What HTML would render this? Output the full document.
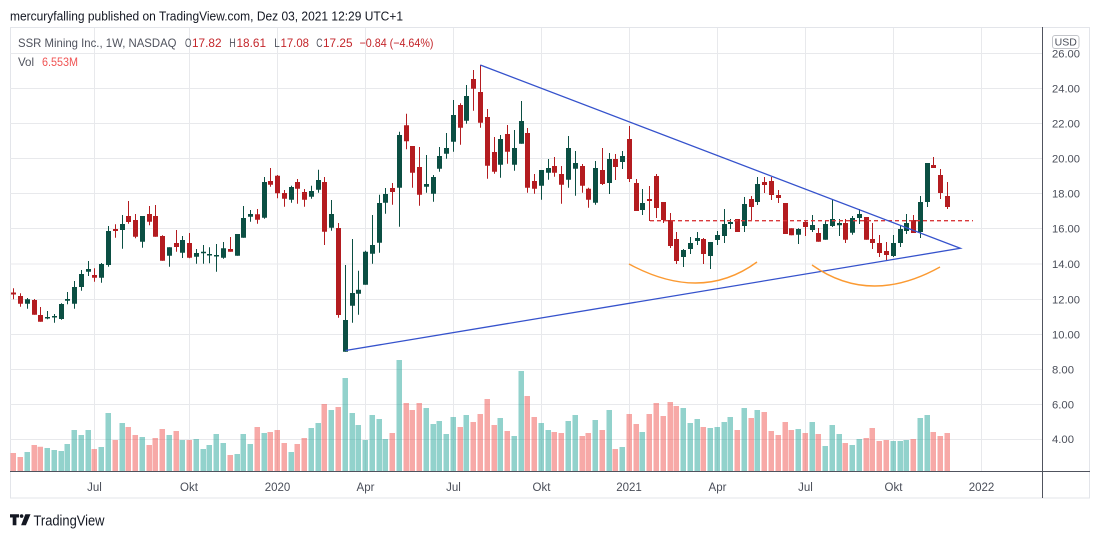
<!DOCTYPE html>
<html><head><meta charset="utf-8"><style>
html,body{margin:0;padding:0;background:#fff;}
svg{display:block;font-family:"Liberation Sans",sans-serif;}
</style></head><body>
<svg width="1100" height="534" viewBox="0 0 1100 534" xmlns="http://www.w3.org/2000/svg">
<rect width="1100" height="534" fill="#fff"/>
<text x="10" y="20.5" font-size="13" fill="#131722" textLength="393" lengthAdjust="spacingAndGlyphs">mercuryfalling published on TradingView.com, Dez 03, 2021 12:29 UTC+1</text>
<rect x="10.5" y="27.5" width="1079" height="470.5" fill="none" stroke="#e3e5ea" stroke-width="1"/>
<g stroke="#e8e9ec" stroke-width="1">
<path d="M10 53.5H1042M10 88.5H1042M10 123.5H1042M10 158.5H1042M10 193.5H1042M10 228.5H1042M10 264H1042M10 299.5H1042M10 334.5H1042M10 369.5H1042M10 404.5H1042M10 439.5H1042"/>
<path d="M94.5 28V471M189.5 28V471M277.5 28V471M365.5 28V471M453.5 28V471M541.5 28V471M629.5 28V471M717.5 28V471M805.5 28V471M893.5 28V471M981.5 28V471"/>
</g>
<!-- volume green -->
<path fill="rgba(38,166,154,0.5)" d="M24.5 452h5.5V471h-5.5zM44.5 448h5.5V471h-5.5zM51.5 450h5.5V471h-5.5zM58.5 451h5.5V471h-5.5zM64.5 444h5.5V471h-5.5zM71.5 430h5.5V471h-5.5zM78.5 435h5.5V471h-5.5zM85.5 430h5.5V471h-5.5zM98.5 447h5.5V471h-5.5zM105.5 413h5.5V471h-5.5zM119.5 423h5.5V471h-5.5zM139.5 437h5.5V471h-5.5zM166.5 435h5.5V471h-5.5zM179.5 440h5.5V471h-5.5zM193.5 439h5.5V471h-5.5zM200.5 449h5.5V471h-5.5zM206.5 445h5.5V471h-5.5zM213.5 434h5.5V471h-5.5zM220.5 443h5.5V471h-5.5zM234.5 454h5.5V471h-5.5zM240.5 434h5.5V471h-5.5zM247.5 444h5.5V471h-5.5zM261.5 433h5.5V471h-5.5zM288.5 452h5.5V471h-5.5zM308.5 428h5.5V471h-5.5zM315.5 423h5.5V471h-5.5zM328.5 410h5.5V471h-5.5zM342.5 378h5.5V471h-5.5zM349.5 413h5.5V471h-5.5zM355.5 425h5.5V471h-5.5zM362.5 440h5.5V471h-5.5zM369.5 415h5.5V471h-5.5zM376.5 419h5.5V471h-5.5zM382.5 439h5.5V471h-5.5zM396.5 360h5.5V471h-5.5zM423.5 408h5.5V471h-5.5zM430.5 424h5.5V471h-5.5zM436.5 421h5.5V471h-5.5zM443.5 434h5.5V471h-5.5zM450.5 417h5.5V471h-5.5zM463.5 415h5.5V471h-5.5zM497.5 418h5.5V471h-5.5zM511.5 436h5.5V471h-5.5zM518.5 371h5.5V471h-5.5zM538.5 423h5.5V471h-5.5zM545.5 430h5.5V471h-5.5zM565.5 421h5.5V471h-5.5zM572.5 415h5.5V471h-5.5zM592.5 420h5.5V471h-5.5zM606.5 410h5.5V471h-5.5zM619.5 447h5.5V471h-5.5zM639.5 432h5.5V471h-5.5zM680.5 408h5.5V471h-5.5zM687.5 423h5.5V471h-5.5zM694.5 419h5.5V471h-5.5zM707.5 428h5.5V471h-5.5zM714.5 427h5.5V471h-5.5zM721.5 422h5.5V471h-5.5zM727.5 417h5.5V471h-5.5zM741.5 408h5.5V471h-5.5zM754.5 410h5.5V471h-5.5zM795.5 429h5.5V471h-5.5zM809.5 422h5.5V471h-5.5zM822.5 446h5.5V471h-5.5zM829.5 425h5.5V471h-5.5zM836.5 434h5.5V471h-5.5zM849.5 445h5.5V471h-5.5zM856.5 439h5.5V471h-5.5zM890.5 441h5.5V471h-5.5zM897.5 441h5.5V471h-5.5zM903.5 440h5.5V471h-5.5zM917.5 418h5.5V471h-5.5zM924.5 415h5.5V471h-5.5z"/>
<!-- volume red -->
<path fill="rgba(239,83,80,0.5)" d="M10.5 453h5.5V471h-5.5zM17.5 457h5.5V471h-5.5zM31.5 445h5.5V471h-5.5zM37.5 446.7h5.5V471h-5.5zM91.5 449h5.5V471h-5.5zM112.5 440h5.5V471h-5.5zM125.5 427h5.5V471h-5.5zM132.5 435h5.5V471h-5.5zM146.5 445h5.5V471h-5.5zM152.5 438h5.5V471h-5.5zM159.5 429h5.5V471h-5.5zM173.5 431h5.5V471h-5.5zM186.5 440h5.5V471h-5.5zM227.5 455h5.5V471h-5.5zM254.5 427h5.5V471h-5.5zM267.5 432h5.5V471h-5.5zM274.5 430h5.5V471h-5.5zM281.5 443h5.5V471h-5.5zM294.5 444h5.5V471h-5.5zM301.5 438h5.5V471h-5.5zM321.5 404h5.5V471h-5.5zM335.5 407h5.5V471h-5.5zM389.5 433h5.5V471h-5.5zM403.5 403h5.5V471h-5.5zM409.5 410h5.5V471h-5.5zM416.5 403h5.5V471h-5.5zM457.5 427h5.5V471h-5.5zM470.5 422h5.5V471h-5.5zM477.5 414h5.5V471h-5.5zM484.5 399h5.5V471h-5.5zM491.5 425h5.5V471h-5.5zM504.5 431h5.5V471h-5.5zM524.5 396h5.5V471h-5.5zM531.5 417h5.5V471h-5.5zM551.5 432h5.5V471h-5.5zM558.5 433h5.5V471h-5.5zM579.5 436h5.5V471h-5.5zM585.5 433h5.5V471h-5.5zM599.5 430h5.5V471h-5.5zM612.5 449h5.5V471h-5.5zM626.5 414h5.5V471h-5.5zM633.5 424h5.5V471h-5.5zM646.5 414h5.5V471h-5.5zM653.5 403h5.5V471h-5.5zM660.5 416h5.5V471h-5.5zM667.5 402h5.5V471h-5.5zM673.5 406h5.5V471h-5.5zM700.5 427h5.5V471h-5.5zM734.5 430h5.5V471h-5.5zM748.5 418h5.5V471h-5.5zM761.5 412h5.5V471h-5.5zM768.5 431h5.5V471h-5.5zM775.5 435h5.5V471h-5.5zM782.5 422h5.5V471h-5.5zM788.5 430h5.5V471h-5.5zM802.5 433h5.5V471h-5.5zM815.5 434h5.5V471h-5.5zM842.5 443h5.5V471h-5.5zM863.5 438h5.5V471h-5.5zM869.5 428h5.5V471h-5.5zM876.5 441h5.5V471h-5.5zM883.5 440h5.5V471h-5.5zM910.5 439h5.5V471h-5.5zM930.5 432h5.5V471h-5.5zM937.5 436h5.5V471h-5.5zM944.5 433h5.5V471h-5.5z"/>
<!-- green wicks -->
<path fill="none" stroke="#0b4f43" stroke-width="1" d="M27.5 298V308.7M47.5 311V319.3M54.5 314V322.7M61.5 303.3V319.7M67.5 292V304.3M74.5 281V308.7M81.5 270V290.7M88.5 261V276M101.5 263V282.7M108.5 226V266.7M122.5 215V248.7M142.5 216V247.7M169.5 247.3V266.7M182.5 236V258M196.5 249V263.7M203.5 245V263.7M209.5 247.3V263.3M216.5 244V271.7M223.5 242V258.7M237.5 234V255.7M243.5 206V237.7M250.5 210V221.7M264.5 177V218.7M291.5 185.7V202.7M311.5 185.7V198.7M318.5 169.7V192.7M331.5 200V230.7M345.5 265V351.7M352.5 239V322.7M358.5 270.7V314.7M365.5 250.7V284.7M372.5 215V263.7M379.5 194.7V252.7M385.5 188V213.7M399.5 131.7V226.7M426.5 155V192.7M433.5 175V201.7M439.5 147V171.7M446.5 133V158.7M453.5 100V151.7M466.5 85V123.7M500.5 135V177.7M514.5 130V170.7M521.5 101V143.7M541.5 170V199.7M548.5 159V179.7M568.5 136V187.7M575.5 151V195.7M595.5 161V204.7M609.5 153V194M622.5 151V169M642.5 189V215M683.5 249V267M690.5 237V254M697.5 232V245M710.5 242V269M717.5 231V245M724.5 209V243M730.5 219V229M744.5 197V232M757.5 177V205M798.5 228.3V244M812.5 215V232M825.5 220V239.7M832.5 199V227M839.5 219V236M852.5 216V234.7M859.5 209V224M893.5 235V257M900.5 225V247M906.5 214V234M920.5 196V238M927.5 163V207"/>
<!-- green bodies -->
<path fill="#0b4f43" d="M25 299.3h5V303.7h-5zM45 317h5V318.5h-5zM52 316h5V317.5h-5zM59 304h5V319h-5zM65 299h5V300.7h-5zM72 287h5V303.7h-5zM79 274h5V287h-5zM86 269h5V271.7h-5zM99 264h5V277.7h-5zM106 231h5V265h-5zM120 224h5V230h-5zM140 216h5V241.7h-5zM167 247.3h5V255.7h-5zM180 240h5V252.7h-5zM194 253h5V256.7h-5zM201 251.7h5V253.2h-5zM207 254h5V255.5h-5zM214 255h5V256.5h-5zM221 248.3h5V257.7h-5zM235 234h5V255.7h-5zM241 218h5V237.7h-5zM248 214h5V216.7h-5zM262 182h5V217.7h-5zM289 187h5V199.7h-5zM309 191h5V196.7h-5zM316 180h5V189.7h-5zM329 214h5V227.7h-5zM343 320h5V351.7h-5zM350 293h5V305.7h-5zM356 289.7h5V293.7h-5zM363 251.7h5V284.7h-5zM370 245h5V253.7h-5zM377 203h5V242.7h-5zM383 194h5V202.7h-5zM397 135h5V187.7h-5zM424 184h5V186.7h-5zM431 177h5V193.7h-5zM437 156h5V168.7h-5zM444 148h5V153.7h-5zM451 115h5V141.7h-5zM464 96h5V120.7h-5zM498 139h5V164.7h-5zM512 148h5V164.7h-5zM519 121h5V143.7h-5zM539 170h5V185.7h-5zM546 168h5V172.7h-5zM566 148h5V179.7h-5zM573 163h5V168.7h-5zM593 168h5V202.7h-5zM607 159h5V183h-5zM620 156h5V162h-5zM640 203h5V210h-5zM681 250h5V257h-5zM688 243h5V249h-5zM695 238h5V241h-5zM708 242h5V256h-5zM715 235h5V240h-5zM722 224h5V236h-5zM728 222h5V224h-5zM742 204h5V226h-5zM755 184h5V202h-5zM796 229h5V234.7h-5zM810 225h5V230h-5zM823 224h5V239.7h-5zM830 219h5V226h-5zM837 223h5V225.3h-5zM850 218h5V232.7h-5zM857 214h5V218h-5zM891 243h5V256h-5zM898 229h5V243h-5zM904 223h5V231h-5zM918 202h5V232h-5zM925 163h5V202h-5z"/>
<!-- red wicks -->
<path fill="none" stroke="#b41c20" stroke-width="1" d="M13.5 288.3V299.3M20.5 293.3V306.7M34.5 299V314.7M40.5 307V321.7M94.5 268.3V281.7M115.5 224.3V237.7M128.5 201V223.7M135.5 214V238.3M149.5 206V225.3M155.5 205V236.7M162.5 235.3V260.7M176.5 230V251.7M189.5 233V258.3M230.5 237V251.7M257.5 209V223.7M270.5 168V186.7M277.5 175V198.3M284.5 190V206.7M297.5 179V203.7M304.5 189V206.7M324.5 177V245M338.5 223V317.7M392.5 183V204.7M406.5 113.7V149.3M412.5 146V187.7M419.5 147V205.7M460.5 103.3V144.7M473.5 70V110.7M480.5 65V127.7M487.5 109V178.7M494.5 137V173.7M507.5 125V163.7M527.5 128V192.7M534.5 174V193.7M554.5 157V176.7M561.5 166V203.7M582.5 164V192.7M588.5 187.7V207.7M602.5 148V185M615.5 154V180M629.5 126V182M636.5 179V211M649.5 186V221M656.5 174V218M663.5 202V223M670.5 213V248M676.5 232V264M703.5 238V264M737.5 219V232M751.5 196V221M764.5 177V193M771.5 177V200M778.5 190V203M785.5 203V234M791.5 228.3V235.3M805.5 220V236M818.5 228V241.7M845.5 219V243M866.5 217V239.7M872.5 223V249M879.5 235V257M886.5 242V260M913.5 215V233M933.5 157V168M940.5 169V199M947.5 182V209"/>
<!-- red bodies -->
<path fill="#b41c20" d="M11 292.5h5V294.5h-5zM18 296h5V303.7h-5zM32 300h5V314.7h-5zM38 315h5V321.7h-5zM92 275h5V277.7h-5zM113 229h5V231h-5zM126 216h5V222h-5zM133 220h5V236.7h-5zM147 214h5V221.7h-5zM153 216h5V236.7h-5zM160 236h5V260.7h-5zM174 243h5V247h-5zM187 243h5V257.7h-5zM228 249h5V251.7h-5zM255 214.3h5V219.7h-5zM268 181h5V184.7h-5zM275 175.7h5V193.3h-5zM282 193h5V198.7h-5zM295 182h5V188.7h-5zM302 192h5V199.7h-5zM322 182h5V231.7h-5zM336 228h5V315h-5zM390 188h5V192h-5zM404 125.3h5V141.3h-5zM410 146h5V172.7h-5zM417 167h5V194.7h-5zM458 105h5V127.7h-5zM471 79h5V88.7h-5zM478 92h5V122.7h-5zM485 117h5V165.7h-5zM492 152h5V171.7h-5zM505 134h5V151.7h-5zM525 133h5V187.7h-5zM532 181h5V188.7h-5zM552 166h5V172.7h-5zM559 174h5V184.7h-5zM580 166h5V185.7h-5zM586 188.7h5V199.7h-5zM600 170h5V184h-5zM613 159h5V167h-5zM627 139h5V179h-5zM634 183h5V211h-5zM647 199h5V201h-5zM654 176h5V208h-5zM661 202h5V220h-5zM668 220h5V246h-5zM674 239h5V261h-5zM701 239h5V254h-5zM735 219h5V232h-5zM749 199h5V207h-5zM762 182h5V185h-5zM769 181h5V195h-5zM776 195h5V198h-5zM783 203h5V234h-5zM789 228.3h5V235.3h-5zM803 222h5V227h-5zM816 233h5V241.7h-5zM843 223h5V239.7h-5zM864 217h5V239.7h-5zM870 239h5V243h-5zM877 243h5V253h-5zM884 251h5V255h-5zM911 220h5V233h-5zM931 165h5V168h-5zM938 175h5V193h-5zM945 196h5V207h-5z"/>
<!-- drawings -->
<path d="M650 220.7H973" stroke="#d9393b" stroke-width="1.3" stroke-dasharray="4,3" fill="none"/>
<path d="M480.3 65L960.3 248.3L345.5 350.5" stroke="#3552cc" stroke-width="1.3" fill="none"/>
<path d="M629 264Q701 303 757 262" stroke="#fb9a32" stroke-width="1.4" fill="none"/>
<path d="M812 265Q870 306 940 267" stroke="#fb9a32" stroke-width="1.4" fill="none"/>
<!-- axes -->
<path d="M1042.5 27V498M10 471.5H1090" stroke="#50535e" stroke-width="1" fill="none"/>
<g font-size="11" fill="#4a4e59">
<text x="1052" y="57.3" textLength="28" lengthAdjust="spacingAndGlyphs">26.00</text>
<text x="1052" y="92.3" textLength="28" lengthAdjust="spacingAndGlyphs">24.00</text>
<text x="1052" y="127.3" textLength="28" lengthAdjust="spacingAndGlyphs">22.00</text>
<text x="1052" y="162.3" textLength="28" lengthAdjust="spacingAndGlyphs">20.00</text>
<text x="1052" y="197.3" textLength="28" lengthAdjust="spacingAndGlyphs">18.00</text>
<text x="1052" y="232.3" textLength="28" lengthAdjust="spacingAndGlyphs">16.00</text>
<text x="1052" y="268" textLength="28" lengthAdjust="spacingAndGlyphs">14.00</text>
<text x="1052" y="303.3" textLength="28" lengthAdjust="spacingAndGlyphs">12.00</text>
<text x="1052" y="338.3" textLength="28" lengthAdjust="spacingAndGlyphs">10.00</text>
<text x="1052" y="373.3" textLength="22" lengthAdjust="spacingAndGlyphs">8.00</text>
<text x="1052" y="408.3" textLength="22" lengthAdjust="spacingAndGlyphs">6.00</text>
<text x="1052" y="443" textLength="22" lengthAdjust="spacingAndGlyphs">4.00</text>
</g>
<rect x="1052.5" y="35.5" width="26.5" height="13" rx="2.5" fill="#fff" stroke="#c3c5ca" stroke-width="1"/>
<text x="1065.7" y="45.7" font-size="10.5" fill="#4a4e59" text-anchor="middle">USD</text>
<g font-size="11.5" fill="#4a4e59" text-anchor="middle">
<text x="94.5" y="491">Jul</text>
<text x="189" y="491">Okt</text>
<text x="277.5" y="491">2020</text>
<text x="365.5" y="491">Apr</text>
<text x="453.5" y="491">Jul</text>
<text x="541.5" y="491">Okt</text>
<text x="629" y="491">2021</text>
<text x="717.5" y="491">Apr</text>
<text x="805.5" y="491">Jul</text>
<text x="893.5" y="491">Okt</text>
<text x="981.5" y="491">2022</text>
</g>
<!-- legend -->
<g font-size="12">
<text x="18" y="47" fill="#50535e" textLength="158.5" lengthAdjust="spacingAndGlyphs">SSR Mining Inc., 1W, NASDAQ</text>
<text x="185" y="47" fill="#50535e" textLength="6.5" lengthAdjust="spacingAndGlyphs">O</text>
<text x="192" y="47" fill="#c4262b" textLength="29.5" lengthAdjust="spacingAndGlyphs">17.82</text>
<text x="229.3" y="47" fill="#50535e" textLength="6.5" lengthAdjust="spacingAndGlyphs">H</text>
<text x="236.5" y="47" fill="#c4262b" textLength="29.5" lengthAdjust="spacingAndGlyphs">18.61</text>
<text x="274.3" y="47" fill="#50535e" textLength="5.5" lengthAdjust="spacingAndGlyphs">L</text>
<text x="280.5" y="47" fill="#c4262b" textLength="28.5" lengthAdjust="spacingAndGlyphs">17.08</text>
<text x="316.3" y="47" fill="#50535e" textLength="6.3" lengthAdjust="spacingAndGlyphs">C</text>
<text x="323" y="47" fill="#c4262b" textLength="29.5" lengthAdjust="spacingAndGlyphs">17.25</text>
<text x="359.5" y="47" fill="#c4262b" textLength="74" lengthAdjust="spacingAndGlyphs">−0.84 (−4.64%)</text>
<text x="18" y="66" fill="#50535e" textLength="16" lengthAdjust="spacingAndGlyphs">Vol</text>
<text x="42" y="66" fill="#f05454" textLength="36" lengthAdjust="spacingAndGlyphs">6.553M</text>
</g>
<!-- footer logo -->
<g fill="#131722">
<path d="M10 514.3h9v3.2h-2.6v7.7h-3.7v-7.7H10z"/>
<circle cx="21.6" cy="516.1" r="1.8"/>
<path d="M25.3 514.3h5.2l-4.6 10.9h-4.8z"/>
</g>
<text x="33.5" y="525.5" font-size="15" fill="#131722" textLength="71" lengthAdjust="spacingAndGlyphs">TradingView</text>
</svg>
</body></html>
